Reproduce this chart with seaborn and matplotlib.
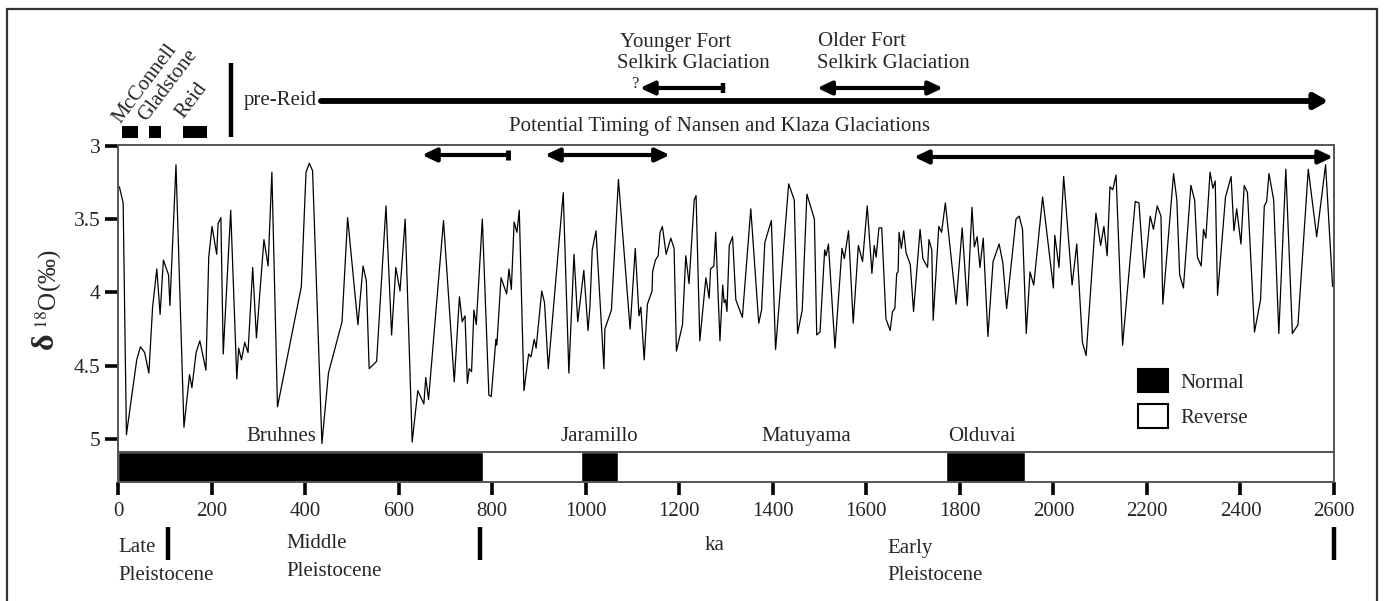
import numpy as np
import pandas as pd
import matplotlib
matplotlib.use("Agg")
import matplotlib.pyplot as plt
import matplotlib.transforms as mtransforms
from matplotlib.patches import Rectangle, Patch
import seaborn as sns

# ---------------- data ----------------
age_ka = [3, 11, 18, 40, 48, 57, 66, 74, 83, 90, 97, 108, 111, 124, 141, 153, 158, 167, 175, 188,
          194, 201, 211, 214, 220, 225, 241, 254, 258, 264, 271, 278, 288, 296, 312, 321, 329, 341,
          392, 402, 409, 416,
          436, 450, 479, 491, 513, 524, 531, 537, 553, 573, 585, 594, 603, 614, 629, 641, 654, 658,
          664, 696, 719, 730, 736, 742, 747, 751, 756, 761, 766, 779, 793, 798, 808, 810, 819, 831,
          836, 841,
          847, 853, 858, 868, 878, 883, 890, 894, 906, 912, 920, 952, 964, 975, 983, 996, 1005, 1009,
          1014, 1022, 1039, 1041, 1055, 1070, 1095, 1106, 1114, 1118, 1125, 1132, 1142, 1143, 1149,
          1155, 1159, 1164, 1172, 1182, 1189, 1194, 1207, 1214, 1221, 1232, 1236, 1244, 1257, 1264,
          1267, 1274, 1278,
          1287, 1293, 1296, 1299, 1302, 1307, 1314, 1321, 1335, 1353, 1370, 1376, 1383, 1397, 1406,
          1434, 1446, 1453, 1463, 1473, 1489, 1494, 1501, 1511, 1514, 1519, 1533, 1548, 1553, 1562,
          1572, 1583, 1592, 1602, 1612, 1617, 1621, 1627, 1633, 1642, 1651, 1656, 1661, 1665, 1668,
          1670, 1675, 1680, 1685, 1694,
          1701, 1715, 1721, 1731, 1734, 1740, 1743, 1755, 1761, 1769, 1792, 1805, 1816, 1826, 1831,
          1837, 1843, 1850, 1860, 1871, 1884, 1892, 1900, 1920, 1927, 1934, 1942, 1950, 1958, 1977,
          2000, 2003, 2012, 2022, 2040, 2050, 2062, 2070, 2091, 2101, 2108, 2115,
          2121, 2127, 2134, 2148, 2175, 2183, 2194, 2207, 2214, 2222, 2230, 2234, 2257, 2264, 2270,
          2278, 2294, 2302, 2308, 2316, 2321, 2326, 2335, 2341, 2346, 2351, 2368, 2380, 2386, 2392,
          2401, 2408, 2415, 2430, 2443, 2451, 2456, 2461, 2471, 2482, 2497, 2511, 2523, 2545, 2563,
          2582, 2597]

d18o = [3.28, 3.39, 4.97, 4.46, 4.37, 4.41, 4.55, 4.10, 3.84, 4.15, 3.78, 3.88, 4.09, 3.13, 4.92,
        4.56, 4.65, 4.41, 4.33, 4.53, 3.76, 3.55, 3.74, 3.53, 3.49, 4.42, 3.44, 4.59, 4.38, 4.46,
        4.34, 4.41, 3.83, 4.31, 3.64, 3.82, 3.18, 4.78, 3.96, 3.18, 3.12, 3.17,
        5.03, 4.55, 4.20, 3.49, 4.22, 3.82, 3.92, 4.52, 4.47, 3.41, 4.29, 3.83, 3.99, 3.50, 5.02,
        4.67, 4.76, 4.58, 4.73, 3.51, 4.61, 4.03, 4.20, 4.16, 4.62, 4.52, 4.54, 4.12, 4.22, 3.50,
        4.70, 4.71, 4.32, 4.36, 3.90, 4.01, 3.84, 3.98,
        3.52, 3.59, 3.44, 4.67, 4.42, 4.44, 4.32, 4.38, 3.99, 4.07, 4.52, 3.32, 4.55, 3.74, 4.20,
        3.85, 4.26, 4.10, 3.71, 3.58, 4.52, 4.25, 4.12, 3.23, 4.25, 3.70, 4.16, 4.10, 4.46, 4.08,
        3.99, 3.86, 3.78, 3.75, 3.59, 3.55, 3.74, 3.63, 3.70, 4.40, 4.22, 3.75, 3.94, 3.37, 3.34,
        4.33, 3.90, 4.04, 3.84, 3.82, 3.59,
        4.33, 3.95, 4.07, 4.05, 4.13, 3.68, 3.62, 4.05, 4.17, 3.43, 4.21, 4.12, 3.66, 3.51, 4.39,
        3.26, 3.37, 4.28, 4.12, 3.33, 3.50, 4.29, 4.27, 3.71, 3.75, 3.67, 4.38, 3.70, 3.77, 3.58,
        4.21, 3.68, 3.79, 3.41, 3.87, 3.68, 3.76, 3.56, 3.56, 4.18, 4.26, 4.13, 4.11, 3.87, 3.86,
        3.59, 3.70, 3.58, 3.73, 3.81,
        4.13, 3.57, 3.77, 3.83, 3.64, 3.71, 4.19, 3.55, 3.59, 3.39, 4.08, 3.56, 4.09, 3.42, 3.69,
        3.62, 3.83, 3.63, 4.30, 3.79, 3.67, 3.80, 4.11, 3.50, 3.48, 3.57, 4.28, 3.86, 3.95, 3.35,
        3.97, 3.61, 3.83, 3.21, 3.95, 3.67, 4.34, 4.43, 3.46, 3.68, 3.55, 3.75,
        3.28, 3.30, 3.20, 4.36, 3.38, 3.39, 3.90, 3.48, 3.57, 3.41, 3.48, 4.08, 3.19, 3.37, 3.88,
        3.97, 3.27, 3.37, 3.76, 3.82, 3.57, 3.63, 3.18, 3.29, 3.24, 4.02, 3.35, 3.21, 3.58, 3.43,
        3.67, 3.27, 3.32, 4.27, 4.05, 3.41, 3.38, 3.19, 3.37, 4.28, 3.16, 4.28, 4.22, 3.16, 3.62,
        3.13, 3.96]

normal_chrons = [(0, 780), (990, 1070), (1770, 1940)]
chron_names = ["Bruhnes", "Jaramillo", "Matuyama", "Olduvai"]
chron_label_ka = [349, 1030, 1471, 1847]

x_ticks = list(range(0, 2601, 200))
y_ticks = [3, 3.5, 4, 4.5, 5]
y_tick_labels = ["3", "3.5", "4", "4.5", "5"]

nansen_klaza = [(650, 834, "bar"), (913, 1180, "both"), (1702, 2598, "both")]
younger_fort_selkirk = (1116, 1294)
older_fort_selkirk = (1495, 1764)
pre_reid = (434, 2588)
young_glaciations = [("McConnell", 8, 42), ("Gladstone", 66, 92), ("Reid", 139, 190)]
reid_limit_ka = 241
epoch_bounds = [107, 774, 2600]

# ---------------- style ----------------
sns.set_theme(style="white")
plt.rcParams["font.family"] = ["Liberation Serif", "DejaVu Serif"]
plt.rcParams["mathtext.fontset"] = "stix"
FS = 15

W, H = 1387, 601
fig = plt.figure(figsize=(W / 100, H / 100), dpi=100)
fig.patch.set_facecolor("white")


def fx(px):
    return px / W


def fy(py):
    return 1 - py / H


ax = fig.add_axes([fx(118), fy(452), fx(1334) - fx(118), fy(145) - fy(452)])
axb = fig.add_axes([fx(118), fy(482), fx(1334) - fx(118), fy(452) - fy(482)], sharex=ax)

df = pd.DataFrame({"age": age_ka, "d18O": d18o})
sns.lineplot(data=df, x="age", y="d18O", ax=ax, color="black", lw=0.9,
             sort=False, estimator=None)

ax.set_xlim(0, 2600)
ax.set_ylim(5.088, 2.995)
ax.set_xlabel("")
ax.set_ylabel("")
ax.set_yticks(y_ticks)
ax.set_yticklabels(y_tick_labels)
ax.tick_params(axis="y", direction="out", length=9.5, width=2.6, labelsize=FS + 0.5, pad=3,
               color="black", left=True)
ax.tick_params(axis="x", bottom=False, labelbottom=False)
for s in ax.spines.values():
    s.set_linewidth(1.4)
    s.set_color("#555555")

# magnetostratigraphy bar
axb.broken_barh([(a, b - a) for a, b in normal_chrons], (0, 1), facecolors="black")
axb.set_ylim(0, 1)
axb.set_yticks([])
axb.set_xticks(x_ticks)
axb.set_xticklabels([str(t) for t in x_ticks])
axb.tick_params(axis="x", direction="out", length=9.5, width=2.6, labelsize=FS, pad=5,
                color="black", bottom=True)
for s in axb.spines.values():
    s.set_linewidth(1.4)
    s.set_color("#555555")

for name, xk in zip(chron_names, chron_label_ka):
    ax.text(xk, 4.985, name, ha="center", va="center", fontsize=FS)

leg = ax.legend(handles=[Patch(facecolor="black", edgecolor="black", lw=1.5),
                         Patch(facecolor="white", edgecolor="black", lw=1.5)],
                labels=["Normal", "Reverse"], loc="upper left",
                bbox_to_anchor=(0.839, 0.27), frameon=False, fontsize=FS,
                handlelength=1.45, handleheight=1.35, handletextpad=0.55,
                labelspacing=0.55, borderpad=0, borderaxespad=0)

# ---------------- annotations above the plot ----------------
tr = mtransforms.blended_transform_factory(ax.transData, fig.transFigure)


def arrow(x0, x1, py, style, lw=3.0, hl=0.85, hw=0.4):
    ax.annotate("", xy=(x1, fy(py)), xytext=(x0, fy(py)), xycoords=tr, textcoords=tr,
                arrowprops=dict(arrowstyle=f"{style},head_length={hl},head_width={hw}",
                                lw=lw, color="black", shrinkA=0, shrinkB=0,
                                mutation_scale=10),
                annotation_clip=False)


def vbar(xk, py0, py1, lw=3.0):
    ax.plot([xk, xk], [fy(py0), fy(py1)], transform=tr, color="black", lw=lw,
            clip_on=False, solid_capstyle="butt")


# Nansen / Klaza arrows (inside plot)
for a, b, kind in nansen_klaza:
    py = 155 if a < 1500 else 157
    if kind == "bar":
        arrow(a, b, py, "<|-")
        vbar(b, py - 5, py + 5, lw=3.5)
    else:
        arrow(a, b, py, "<|-|>")

ax.text(1287, fy(126), "Potential Timing of Nansen and Klaza Glaciations", transform=tr,
        ha="center", va="center", fontsize=FS)

# pre-Reid
ax.text(269, fy(101), "pre-Reid", transform=tr, ha="left", va="center", fontsize=FS)
arrow(pre_reid[0], pre_reid[1], 101, "-|>", lw=4.2, hl=0.8, hw=0.45)
vbar(reid_limit_ka, 63, 137, lw=3.2)

# Fort Selkirk
ax.text(1073, fy(42), "Younger Fort", transform=tr, ha="left", va="center", fontsize=FS)
ax.text(1067, fy(64), "Selkirk Glaciation", transform=tr, ha="left", va="center", fontsize=FS)
ax.text(1105, fy(84), "?", transform=tr, ha="center", va="center", fontsize=12)
arrow(younger_fort_selkirk[0], younger_fort_selkirk[1], 88, "<|-")
vbar(younger_fort_selkirk[1], 83, 93, lw=3.2)

ax.text(1497, fy(42), "Older Fort", transform=tr, ha="left", va="center", fontsize=FS)
ax.text(1495, fy(64), "Selkirk Glaciation", transform=tr, ha="left", va="center", fontsize=FS)
arrow(older_fort_selkirk[0], older_fort_selkirk[1], 88, "<|-|>")

# young glaciations boxes and rotated labels
for (name, a, b), lab_ka, lab_py in zip(young_glaciations, [5, 61, 139], [124, 122, 119]):
    r = Rectangle((a, fy(138)), b - a, fy(126) - fy(138), transform=tr, facecolor="black",
                  edgecolor="none", clip_on=False)
    ax.add_artist(r)
    ax.text(lab_ka, fy(lab_py), name, transform=tr, rotation=53, rotation_mode="anchor",
            ha="left", va="baseline", fontsize=FS)

# ---------------- below the plot ----------------
for xk in epoch_bounds:
    vbar(xk, 527, 560, lw=3.2)
ax.text(0, fy(548), "Late", transform=tr, ha="left", va="center", fontsize=FS)
ax.text(0, fy(575), "Pleistocene", transform=tr, ha="left", va="center", fontsize=FS)
ax.text(360, fy(544), "Middle", transform=tr, ha="left", va="center", fontsize=FS)
ax.text(360, fy(571), "Pleistocene", transform=tr, ha="left", va="center", fontsize=FS)
ax.text(1275, fy(545), "ka", transform=tr, ha="center", va="center", fontsize=FS)
ax.text(1646, fy(549), "Early", transform=tr, ha="left", va="center", fontsize=FS)
ax.text(1646, fy(576), "Pleistocene", transform=tr, ha="left", va="center", fontsize=FS)

# y label
fig.text(fx(45), fy(349), "δ", rotation=90, ha="center", va="bottom", fontsize=23,
         fontweight="bold")
fig.text(fx(49), fy(329), r"$^{18}$O(‰)", rotation=90, ha="center", va="bottom", fontsize=18)

# outer frame
fig.patches.append(Rectangle((fx(7), -0.2), fx(1377) - fx(7), fy(9) + 0.2,
                             transform=fig.transFigure, fill=False, edgecolor="#333333",
                             lw=1.6))

fig.savefig("out.png", dpi=100, facecolor="white")
